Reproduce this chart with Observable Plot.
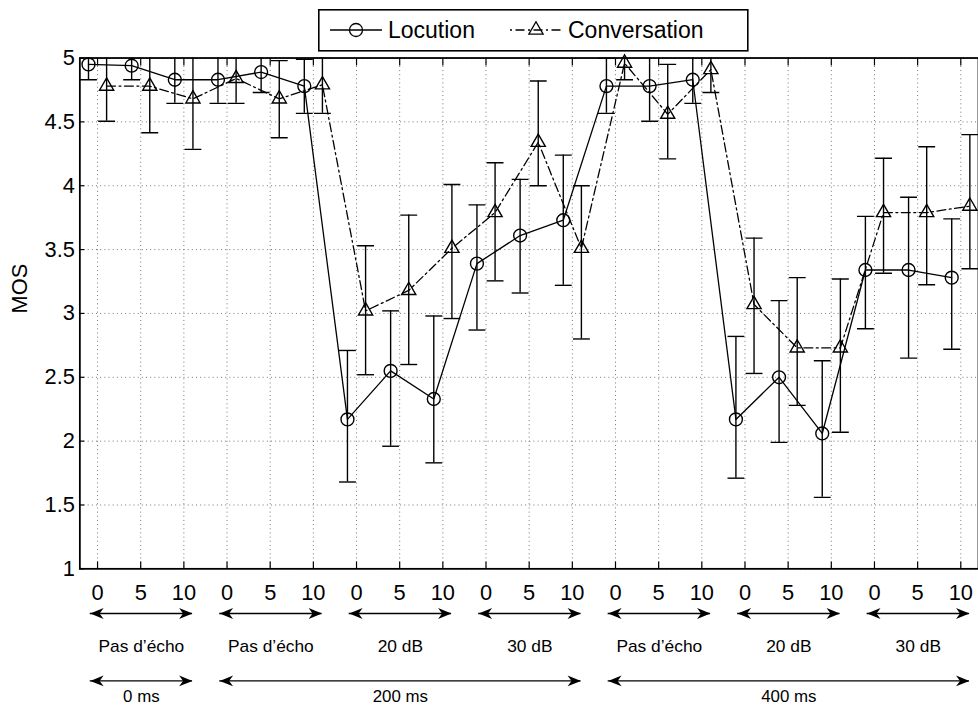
<!DOCTYPE html>
<html><head><meta charset="utf-8">
<script src="https://cdn.jsdelivr.net/npm/d3@7"></script>
<script src="https://cdn.jsdelivr.net/npm/@observablehq/plot@0.6"></script>
<style>
html,body{margin:0;padding:0;background:#fff;overflow:hidden;}
#wrap{position:relative;width:978px;height:713px;overflow:hidden;font-family:"Liberation Sans",Arial,Helvetica,sans-serif;}
#legend{position:absolute;left:318px;top:9px;}
</style></head><body><div id="wrap"><div id="chart"></div><div id="legend"></div></div>
<script>
// ---- data ----
const snrTicks = ["0", "5", "10"];
const yTicks = [1, 1.5, 2, 2.5, 3, 3.5, 4, 4.5, 5];
const yTickLabels = ["1", "1.5", "2", "2.5", "3", "3.5", "4", "4.5", "5"];
const scenarioLabels = ["Pas d’écho", "Pas d’écho", "20 dB", "30 dB", "Pas d’écho", "20 dB", "30 dB"];
const scenarioSpans = [[0, 2], [3, 5], [6, 8], [9, 11], [12, 14], [15, 17], [18, 20]];
const delayLabels = ["0 ms", "200 ms", "400 ms"];
const delaySpans = [[0, 2], [3, 11], [12, 20]];
const seriesNames = ["Locution", "Conversation"];

const locution = [4.95, 4.94, 4.83, 4.83, 4.89, 4.78, 2.17, 2.55, 2.33, 3.39, 3.61, 3.73, 4.78, 4.78, 4.83, 2.17, 2.50, 2.06, 3.34, 3.34, 3.28];
const locutionLow = [4.83, 4.83, 4.645, 4.645, 4.73, 4.567, 1.68, 1.96, 1.83, 2.87, 3.16, 3.22, 4.567, 4.505, 4.645, 1.71, 1.99, 1.56, 2.88, 2.65, 2.72];
const locutionHigh = [5.07, 5.05, 5.02, 5.02, 5.05, 4.99, 2.71, 3.02, 2.98, 3.85, 4.05, 4.24, 5.0, 5.05, 5.02, 2.82, 3.10, 2.63, 3.76, 3.91, 3.74];

const conversation = [4.78, 4.78, 4.68, 4.84, 4.68, 4.79, 3.02, 3.18, 3.51, 3.79, 4.34, 3.51, 4.96, 4.56, 4.91, 3.07, 2.73, 2.73, 3.79, 3.79, 3.84];
const conversationLow = [4.505, 4.415, 4.285, 4.645, 4.376, 4.567, 2.52, 2.60, 2.96, 3.255, 4.0, 2.80, 4.83, 4.21, 4.73, 2.53, 2.28, 2.07, 3.315, 3.225, 3.35];
const conversationHigh = [5.05, 5.15, 5.08, 5.03, 4.98, 5.01, 3.53, 3.77, 4.01, 4.18, 4.82, 4.0, 5.09, 4.95, 5.09, 3.59, 3.28, 3.27, 4.215, 4.305, 4.40];

// ---- tables ----
const shift = 0.21;
const loc = locution.map((v, i) => ({x: i - shift, y: v, lo: locutionLow[i], hi: locutionHigh[i]}));
const conv = conversation.map((v, i) => ({x: i + shift, y: v, lo: conversationLow[i], hi: conversationHigh[i]}));
const padL = 0.17, padR = 0.2;
const scen = scenarioSpans.map(([a, b], i) => ({x1: a - padL, x2: b + padR, mid: (a - padL + b + padR) / 2, label: scenarioLabels[i]}));
const dels = delaySpans.map(([a, b], i) => ({x1: a - padL, x2: b + padR, mid: (a - padL + b + padR) / 2, label: delayLabels[i]}));

const cap = {draw(ctx) { ctx.moveTo(-8.5, 0); ctx.lineTo(8.5, 0); }};
const head = {draw(ctx) { ctx.moveTo(0, 0); ctx.lineTo(-13.5, -5.5); ctx.lineTo(-9.5, 0); ctx.lineTo(-13.5, 5.5); ctx.closePath(); }};

const H = 713, MT = 58, MB = 140;
const half = (H - MT - MB) / 2;
const row1 = 45, row1t = 78, row2 = 113, row2t = 129;
const ff = '"Liberation Sans",Arial,Helvetica,sans-serif';

const errMarks = (data) => [
  Plot.ruleX(data, {x: "x", y1: "lo", y2: "hi", stroke: "black", strokeWidth: 1.4, clip: true}),
  Plot.dot(data, {x: "x", y: "lo", symbol: cap, stroke: "black", strokeWidth: 1.4, clip: true}),
  Plot.dot(data, {x: "x", y: "hi", symbol: cap, stroke: "black", strokeWidth: 1.4, clip: true})
];

const arrowMarks = (data, rowOff) => [
  Plot.ruleY(data, {x1: "x1", x2: "x2", y: null, dy: half + rowOff, stroke: "black", strokeWidth: 1.4}),
  Plot.dot(data, {x: "x2", frameAnchor: "bottom", dy: rowOff, symbol: head, fill: "black", stroke: "none"}),
  Plot.dot(data, {x: "x1", frameAnchor: "bottom", dy: rowOff, symbol: head, rotate: 180, fill: "black", stroke: "none"})
];

const chart = Plot.plot({
  width: 986, height: H, marginLeft: 80, marginRight: 0, marginTop: MT, marginBottom: MB,
  style: {fontFamily: ff, color: "black", background: "white"},
  x: {domain: [-0.41, 20.41]},
  y: {domain: [1, 5]},
  marks: [
    Plot.gridX({ticks: d3.range(21), stroke: "#000", strokeOpacity: 0.55, strokeDasharray: "1,3.2", strokeWidth: 1}),
    Plot.gridY({ticks: yTicks, stroke: "#000", strokeOpacity: 0.55, strokeDasharray: "1,3.2", strokeWidth: 1}),
    Plot.axisX({anchor: "bottom", ticks: d3.range(21), tickSize: -7, tickPadding: 23, tickFormat: i => snrTicks[i % 3], fontSize: 22, label: null, strokeWidth: 1.2}),
    Plot.axisX({anchor: "top", ticks: d3.range(21), tickSize: -7, tickFormat: () => "", label: null, strokeWidth: 1.2}),
    Plot.axisY({anchor: "left", ticks: yTicks, tickSize: -5, tickPadding: 10, tickFormat: (d, i) => yTickLabels[i], fontSize: 22, label: null, strokeWidth: 1.2}),
    Plot.frame({stroke: "black", strokeWidth: 1.8}),
    Plot.text(["MOS"], {frameAnchor: "left", dx: -60, rotate: -90, text: d => d, fontSize: 22, fill: "black"}),
    ...errMarks(loc),
    ...errMarks(conv),
    Plot.line(loc, {x: "x", y: "y", stroke: "black", strokeWidth: 1.3}),
    Plot.line(conv, {x: "x", y: "y", stroke: "black", strokeWidth: 1.3, strokeDasharray: "9,3.5,2,3.5"}),
    Plot.dot(loc, {x: "x", y: "y", r: 6.5, stroke: "black", fill: "none", strokeWidth: 1.4}),
    Plot.dot(conv, {x: "x", y: "y", symbol: "triangle", r: 5.3, stroke: "black", fill: "none", strokeWidth: 1.4}),
    ...arrowMarks(scen, row1),
    Plot.text(scen, {x: "mid", text: "label", frameAnchor: "bottom", lineAnchor: "middle", dy: row1t, fontSize: 17.5, fill: "black"}),
    ...arrowMarks(dels, row2),
    Plot.text(dels, {x: "mid", text: "label", frameAnchor: "bottom", lineAnchor: "middle", dy: row2t, fontSize: 17, fill: "black"})
  ]
});
document.getElementById("chart").appendChild(chart);

// ---- legend ----
const lg = d3.select("#legend").append("svg").attr("width", 431).attr("height", 43);
lg.append("rect").attr("x", 0.8).attr("y", 0.8).attr("width", 429).attr("height", 41).attr("fill", "white").attr("stroke", "black").attr("stroke-width", 1.6);
lg.append("line").attr("x1", 12).attr("x2", 64).attr("y1", 21).attr("y2", 21).attr("stroke", "black").attr("stroke-width", 1.3);
lg.append("circle").attr("cx", 38).attr("cy", 21).attr("r", 6.5).attr("fill", "none").attr("stroke", "black").attr("stroke-width", 1.3);
lg.append("text").attr("x", 70).attr("y", 29).attr("font-size", 23).attr("font-family", ff).text(seriesNames[0]);
lg.append("line").attr("x1", 192).attr("x2", 245).attr("y1", 21).attr("y2", 21).attr("stroke", "black").attr("stroke-width", 1.3).attr("stroke-dasharray", "2,3.5,9,3.5");
lg.append("path").attr("d", d3.symbol(d3.symbolTriangle, 5.3 * 5.3 * Math.PI)()).attr("transform", "translate(218,21)").attr("fill", "none").attr("stroke", "black").attr("stroke-width", 1.3);
lg.append("text").attr("x", 250).attr("y", 29).attr("font-size", 23).attr("font-family", ff).text(seriesNames[1]);
</script></body></html>
